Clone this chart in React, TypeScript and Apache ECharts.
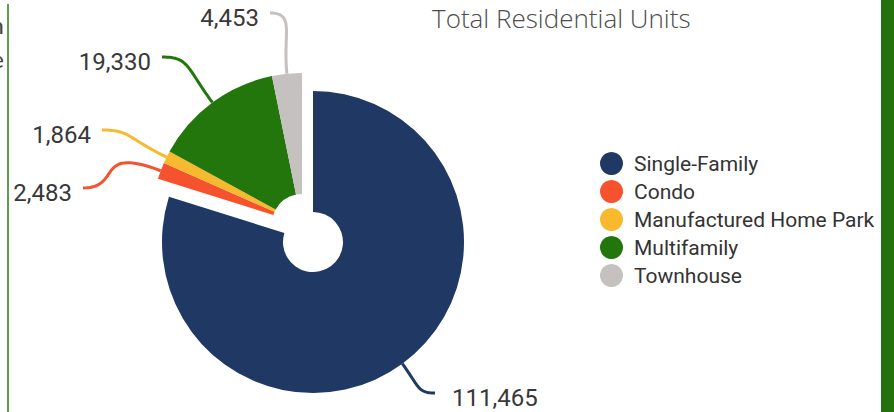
import React, { useEffect, useRef } from "react";
import * as echarts from "echarts";

const categories = ["Single-Family", "Condo", "Manufactured Home Park", "Multifamily", "Townhouse"];
const units = [111465, 2483, 1864, 19330, 4453];
const sliceColors = ["#1f3864", "#f6522e", "#f9b92e", "#23760c", "#c4c1be"];
const chartTitle = "Total Residential Units";
const edgeFragments = ["n", "e"];

// label placement (layout only): end of the leader line, the side the label sits on, and line bend
const labelAnchors: Record<string, { x: number; y: number; side: number; k1: number; k2: number }> = {
  "Single-Family": { x: 435, y: 393, side: 1, k1: 0.65, k2: 0.4 },
  Condo: { x: 83, y: 188, side: -1, k1: 0.9, k2: 0.5 },
  "Manufactured Home Park": { x: 102, y: 130, side: -1, k1: 0.65, k2: 0.4 },
  Multifamily: { x: 162, y: 57, side: -1, k1: 0.65, k2: 0.4 },
  Townhouse: { x: 270, y: 13, side: -1, k1: 0.65, k2: 0.4 },
};

const fmt = (v: number) => Number(v).toLocaleString("en-US");

const makeLayout = (params: any) => {
  const name = categories[params.dataIndex];
  const a = labelAnchors[name];
  const pts = params.labelLinePoints;
  if (!a || !pts || pts.length < 2) return {};
  const p0 = pts[0];
  const p1 = pts[1];
  let dx = p1[0] - p0[0];
  let dy = p1[1] - p0[1];
  const len = Math.hypot(dx, dy) || 1;
  dx /= len;
  dy /= len;
  const dist = Math.hypot(a.x - p0[0], a.y - p0[1]);
  const k1 = dist * a.k1;
  const k2 = dist * a.k2;
  const c1 = [p0[0] + dx * k1, p0[1] + dy * k1];
  const c2 = [a.x - a.side * k2, a.y];
  const line: number[][] = [];
  const n = 30;
  for (let s = 0; s <= n; s++) {
    const t = s / n;
    const u = 1 - t;
    line.push([
      u * u * u * p0[0] + 3 * u * u * t * c1[0] + 3 * u * t * t * c2[0] + t * t * t * a.x,
      u * u * u * p0[1] + 3 * u * u * t * c1[1] + 3 * u * t * t * c2[1] + t * t * t * a.y,
    ]);
  }
  return {
    x: a.side > 0 ? a.x + 17 : a.x - 11,
    y: a.y + 5,
    align: a.side > 0 ? "left" : "right",
    verticalAlign: "middle",
    labelLinePoints: line,
  };
};

const hidden = {
  itemStyle: { color: "rgba(0,0,0,0)" },
  label: { show: false },
  labelLine: { show: false },
  emphasis: { disabled: true },
  tooltip: { show: false },
};

export default function App() {
  const ref = useRef<HTMLDivElement>(null);
  useEffect(() => {
    if (!ref.current) return;
    const chart = echarts.init(ref.current, undefined, { renderer: "svg" });
    const restSum = units.slice(1).reduce((s, v) => s + v, 0);
    const common = {
      type: "pie",
      radius: [30, 151],
      startAngle: 90,
      clockwise: true,
      avoidLabelOverlap: false,
      itemStyle: { borderWidth: 0 },
      emphasis: { scale: false },
      label: {
        show: true,
        position: "outside",
        color: "#383838",
        fontFamily: "Roboto",
        fontSize: 24,
        formatter: (p: any) => fmt(p.value),
      },
      labelLine: { show: true, length: 20, length2: 10, smooth: false, lineStyle: { width: 3 } },
      labelLayout: makeLayout,
    };
    chart.setOption({
      animation: false,
      backgroundColor: "#ffffff",
      title: {
        text: chartTitle,
        left: 432,
        top: 5,
        padding: 0,
        textStyle: { fontFamily: "Open Sans", fontWeight: 300, fontSize: 26, color: "#4d4d4d" },
      },
      legend: {
        orient: "vertical",
        left: 595,
        top: 147,
        itemWidth: 35,
        itemHeight: 23,
        itemGap: 5,
        icon: "circle",
        selectedMode: false,
        data: categories,
        textStyle: { fontFamily: "Roboto", fontSize: 21, color: "#333333" },
      },
      graphic: [
        { type: "rect", shape: { x: 881, y: 0, width: 13, height: 412 }, style: { fill: "#22730f" } },
        { type: "line", shape: { x1: 8, y1: 4, x2: 8, y2: 412 }, style: { stroke: "#2b7d17", lineWidth: 1.5 } },
        {
          type: "text",
          x: 4,
          y: 36,
          style: { text: edgeFragments[0], align: "right", verticalAlign: "bottom", fontFamily: "Lato", fontSize: 24, fill: "#444" },
        },
        {
          type: "text",
          x: 4,
          y: 70,
          style: { text: edgeFragments[1], align: "right", verticalAlign: "bottom", fontFamily: "Lato", fontSize: 24, fill: "#444" },
        },
      ],
      series: [
        {
          ...common,
          center: [313, 242],
          data: [
            { name: categories[0], value: units[0], itemStyle: { color: sliceColors[0] } },
            { name: "", value: restSum, ...hidden },
          ],
        },
        {
          ...common,
          center: [302, 224],
          data: [
            { name: "", value: units[0], ...hidden },
            ...categories.slice(1).map((c, i) => ({
              name: c,
              value: units[i + 1],
              itemStyle: { color: sliceColors[i + 1] },
            })),
          ],
        },
      ],
    });
    return () => chart.dispose();
  }, []);
  return <div ref={ref} style={{ position: "fixed", left: 0, top: 0, width: 894, height: 412 }} />;
}
